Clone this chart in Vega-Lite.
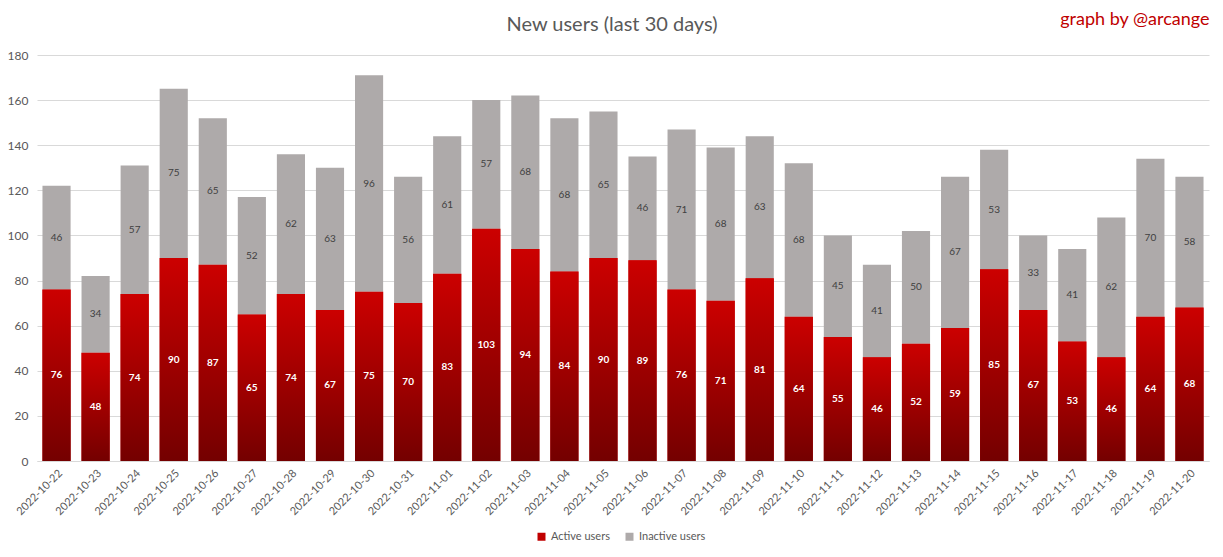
{
  "$schema": "https://vega.github.io/schema/vega-lite/v6.json",
  "width": 1172,
  "height": 406,
  "autosize": {"type": "none"},
  "padding": {"left": 37, "top": 55, "right": 14, "bottom": 96},
  "background": "white",
  "config": {"font": "Lato", "view": {"stroke": null}},
  "title": {"text": "New users (last 30 days)", "fontSize": 20, "font": "Lato", "fontWeight": "normal", "color": "#595959", "anchor": "middle", "dx": -11, "offset": 0, "dy": 25},
  "data": {"values": [
    {"date": "2022-10-22", "series": "Active users", "value": 76}, {"date": "2022-10-22", "series": "Inactive users", "value": 46},
    {"date": "2022-10-23", "series": "Active users", "value": 48}, {"date": "2022-10-23", "series": "Inactive users", "value": 34},
    {"date": "2022-10-24", "series": "Active users", "value": 74}, {"date": "2022-10-24", "series": "Inactive users", "value": 57},
    {"date": "2022-10-25", "series": "Active users", "value": 90}, {"date": "2022-10-25", "series": "Inactive users", "value": 75},
    {"date": "2022-10-26", "series": "Active users", "value": 87}, {"date": "2022-10-26", "series": "Inactive users", "value": 65},
    {"date": "2022-10-27", "series": "Active users", "value": 65}, {"date": "2022-10-27", "series": "Inactive users", "value": 52},
    {"date": "2022-10-28", "series": "Active users", "value": 74}, {"date": "2022-10-28", "series": "Inactive users", "value": 62},
    {"date": "2022-10-29", "series": "Active users", "value": 67}, {"date": "2022-10-29", "series": "Inactive users", "value": 63},
    {"date": "2022-10-30", "series": "Active users", "value": 75}, {"date": "2022-10-30", "series": "Inactive users", "value": 96},
    {"date": "2022-10-31", "series": "Active users", "value": 70}, {"date": "2022-10-31", "series": "Inactive users", "value": 56},
    {"date": "2022-11-01", "series": "Active users", "value": 83}, {"date": "2022-11-01", "series": "Inactive users", "value": 61},
    {"date": "2022-11-02", "series": "Active users", "value": 103}, {"date": "2022-11-02", "series": "Inactive users", "value": 57},
    {"date": "2022-11-03", "series": "Active users", "value": 94}, {"date": "2022-11-03", "series": "Inactive users", "value": 68},
    {"date": "2022-11-04", "series": "Active users", "value": 84}, {"date": "2022-11-04", "series": "Inactive users", "value": 68},
    {"date": "2022-11-05", "series": "Active users", "value": 90}, {"date": "2022-11-05", "series": "Inactive users", "value": 65},
    {"date": "2022-11-06", "series": "Active users", "value": 89}, {"date": "2022-11-06", "series": "Inactive users", "value": 46},
    {"date": "2022-11-07", "series": "Active users", "value": 76}, {"date": "2022-11-07", "series": "Inactive users", "value": 71},
    {"date": "2022-11-08", "series": "Active users", "value": 71}, {"date": "2022-11-08", "series": "Inactive users", "value": 68},
    {"date": "2022-11-09", "series": "Active users", "value": 81}, {"date": "2022-11-09", "series": "Inactive users", "value": 63},
    {"date": "2022-11-10", "series": "Active users", "value": 64}, {"date": "2022-11-10", "series": "Inactive users", "value": 68},
    {"date": "2022-11-11", "series": "Active users", "value": 55}, {"date": "2022-11-11", "series": "Inactive users", "value": 45},
    {"date": "2022-11-12", "series": "Active users", "value": 46}, {"date": "2022-11-12", "series": "Inactive users", "value": 41},
    {"date": "2022-11-13", "series": "Active users", "value": 52}, {"date": "2022-11-13", "series": "Inactive users", "value": 50},
    {"date": "2022-11-14", "series": "Active users", "value": 59}, {"date": "2022-11-14", "series": "Inactive users", "value": 67},
    {"date": "2022-11-15", "series": "Active users", "value": 85}, {"date": "2022-11-15", "series": "Inactive users", "value": 53},
    {"date": "2022-11-16", "series": "Active users", "value": 67}, {"date": "2022-11-16", "series": "Inactive users", "value": 33},
    {"date": "2022-11-17", "series": "Active users", "value": 53}, {"date": "2022-11-17", "series": "Inactive users", "value": 41},
    {"date": "2022-11-18", "series": "Active users", "value": 46}, {"date": "2022-11-18", "series": "Inactive users", "value": 62},
    {"date": "2022-11-19", "series": "Active users", "value": 64}, {"date": "2022-11-19", "series": "Inactive users", "value": 70},
    {"date": "2022-11-20", "series": "Active users", "value": 68}, {"date": "2022-11-20", "series": "Inactive users", "value": 58}
  ]},
  "transform": [
    {"stack": "value", "groupby": ["date"], "sort": [{"field": "series", "order": "ascending"}], "as": ["y0", "y1"]},
    {"calculate": "(datum.y0 + datum.y1) / 2", "as": "mid"}
  ],
  "resolve": {"axis": {"x": "independent"}},
  "layer": [
    {
      "mark": {"type": "bar"},
      "encoding": {
        "x": {"field": "date", "type": "nominal", "sort": null,
          "scale": {"paddingInner": 0.28, "paddingOuter": 0.14},
          "axis": {"orient": "bottom", "title": null, "ticks": false, "grid": false, "domainColor": "#d9d9d9", "labelAngle": -45, "labelColor": "#595959", "labelFontSize": 11, "labelPadding": 6, "labelFont": "Lato"}},
        "y": {"field": "y1", "type": "quantitative",
          "scale": {"domain": [0, 180], "nice": false},
          "axis": {"title": null, "values": [0, 20, 40, 60, 80, 100, 120, 140, 160, 180], "grid": true, "gridColor": "#d9d9d9", "domain": false, "ticks": false, "labelColor": "#595959", "labelFontSize": 12, "labelPadding": 9, "labelFont": "Lato"}},
        "y2": {"field": "y0"},
        "color": {"field": "series", "type": "nominal",
          "scale": {"domain": ["Active users", "Inactive users"], "range": ["#c00000", "#aeaaaa"]},
          "legend": {"orient": "none", "legendX": 499, "legendY": 476, "direction": "horizontal", "title": null, "symbolType": "square", "symbolSize": 64, "symbolStrokeWidth": 0, "labelFontSize": 11, "labelColor": "#595959", "labelFont": "Lato", "columnPadding": 14}}
      }
    },
    {
      "transform": [{"filter": "datum.series === 'Active users'"}],
      "mark": {"type": "bar", "fill": {"gradient": "linear", "x1": 0, "y1": 0, "x2": 0, "y2": 1, "stops": [{"offset": 0, "color": "#cc0000"}, {"offset": 1, "color": "#740000"}]}},
      "encoding": {
        "x": {"field": "date", "type": "nominal", "sort": null,
          "axis": {"orient": "top", "labels": false, "ticks": false, "domain": false, "grid": false, "title": "graph by @arcange", "titleColor": "#c00000", "titleFontSize": 18, "titleFontWeight": "normal", "titleFont": "Lato", "titleAnchor": "end", "titlePadding": 27}},
        "y": {"field": "y1", "type": "quantitative"},
        "y2": {"field": "y0"}
      }
    },
    {
      "transform": [{"filter": "datum.series === 'Active users'"}],
      "mark": {"type": "text", "fontSize": 10, "fontWeight": "bold", "color": "white", "font": "Lato"},
      "encoding": {
        "x": {"field": "date", "type": "nominal", "sort": null, "axis": null},
        "y": {"field": "mid", "type": "quantitative"},
        "text": {"field": "value", "type": "quantitative"}
      }
    },
    {
      "transform": [{"filter": "datum.series === 'Inactive users'"}],
      "mark": {"type": "text", "fontSize": 10, "color": "#404040", "font": "Lato"},
      "encoding": {
        "x": {"field": "date", "type": "nominal", "sort": null, "axis": null},
        "y": {"field": "mid", "type": "quantitative"},
        "text": {"field": "value", "type": "quantitative"}
      }
    }
  ]
}
